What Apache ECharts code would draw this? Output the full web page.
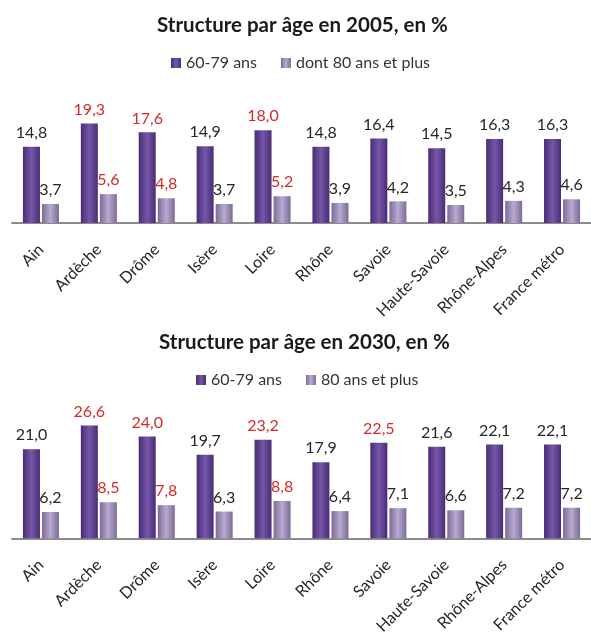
<!DOCTYPE html>
<html>
<head>
<meta charset="utf-8">
<script src="https://cdn.jsdelivr.net/npm/echarts@6/dist/echarts.min.js"></script>
<style>
  html, body { margin: 0; padding: 0; background: #fff; }
  #chart { width: 591px; height: 637px; }
</style>
</head>
<body>
<div id="chart"></div>
<script>
// données
const categories = ['Ain', 'Ardèche', 'Drôme', 'Isère', 'Loire', 'Rhône', 'Savoie', 'Haute-Savoie', 'Rhône-Alpes', 'France métro'];
const age6079_2005 = [14.8, 19.3, 17.6, 14.9, 18.0, 14.8, 16.4, 14.5, 16.3, 16.3];
const age80_2005 = [3.7, 5.6, 4.8, 3.7, 5.2, 3.9, 4.2, 3.5, 4.3, 4.6];
const age6079_2030 = [21.0, 26.6, 24.0, 19.7, 23.2, 17.9, 22.5, 21.6, 22.1, 22.1];
const age80_2030 = [6.2, 8.5, 7.8, 6.3, 8.8, 6.4, 7.1, 6.6, 7.2, 7.2];
// valeurs en rouge dans la source
const rouge6079_2005 = ['Ardèche', 'Drôme', 'Loire'];
const rouge80_2005 = ['Ardèche', 'Drôme', 'Loire'];
const rouge6079_2030 = ['Ardèche', 'Drôme', 'Loire', 'Savoie'];
const rouge80_2030 = ['Ardèche', 'Drôme', 'Loire'];

const FONT = 'Lato';
const DARK = new echarts.graphic.LinearGradient(0, 0, 1, 0, [
  { offset: 0, color: '#4a2c74' },
  { offset: 0.5, color: '#7656a8' },
  { offset: 1, color: '#4a2c74' }
]);
const LIGHT = new echarts.graphic.LinearGradient(0, 0, 1, 0, [
  { offset: 0, color: '#7c6a98' },
  { offset: 0.5, color: '#b8aad0' },
  { offset: 1, color: '#7c6a98' }
]);

function toData (values, rouges) {
  return values.map((v, i) => ({
    value: v,
    label: { color: rouges.indexOf(categories[i]) >= 0 ? '#d42a2a' : '#262626' }
  }))
}

function barSerie (name, idx, values, rouges, color) {
  return {
    name: name,
    type: 'bar',
    xAxisIndex: idx,
    yAxisIndex: idx,
    barWidth: 17,
    barGap: '12%',
    itemStyle: { color: color },
    label: {
      show: true,
      position: 'top',
      distance: 6,
      fontFamily: FONT,
      fontSize: 16,
      formatter: p => p.value.toFixed(1).replace('.', ',')
    },
    data: toData(values, rouges)
  }
}

function xAxe (idx) {
  return {
    type: 'category',
    gridIndex: idx,
    data: categories,
    axisLine: { lineStyle: { color: '#8c8c8c', width: 2 } },
    axisTick: { show: false },
    axisLabel: { rotate: 45, margin: 24, fontFamily: FONT, fontSize: 16, color: '#262626', interval: 0 }
  }
}

function yAxe (idx, max) {
  return {
    type: 'value',
    gridIndex: idx,
    min: 0,
    max: max,
    show: false
  }
}

const titre = { fontFamily: FONT, fontSize: 20.5, fontWeight: 'bold', color: '#1a1a1a' };
const legende = { fontFamily: FONT, fontSize: 16, color: '#333' };

const myChart = echarts.init(document.getElementById('chart'));
const option = {
  animation: false,
  title: [
    { text: 'Structure par âge en 2005, en %', left: 152, top: 10, textStyle: titre },
    { text: 'Structure par âge en 2030, en %', left: 154, top: 327, textStyle: titre }
  ],
  legend: [
    { data: ['60-79 ans', 'dont 80 ans et plus'], top: 50, left: 166, icon: 'rect', itemWidth: 10, itemHeight: 10, itemGap: 24, textStyle: legende },
    { data: ['60-79 ans', '80 ans et plus'], top: 367, left: 191, icon: 'rect', itemWidth: 10, itemHeight: 10, itemGap: 24, textStyle: legende }
  ],
  grid: [
    { left: 12, width: 580, top: 120, height: 103 },
    { left: 12, width: 580, top: 411, height: 130 }
  ],
  xAxis: [xAxe(0), xAxe(1)],
  yAxis: [yAxe(0, 20), yAxe(1, 30)],
  series: [
    barSerie('60-79 ans', 0, age6079_2005, rouge6079_2005, DARK),
    barSerie('dont 80 ans et plus', 0, age80_2005, rouge80_2005, LIGHT),
    barSerie('60-79 ans', 1, age6079_2030, rouge6079_2030, DARK),
    barSerie('80 ans et plus', 1, age80_2030, rouge80_2030, LIGHT)
  ]
};
myChart.setOption(option);
</script>
</body>
</html>
